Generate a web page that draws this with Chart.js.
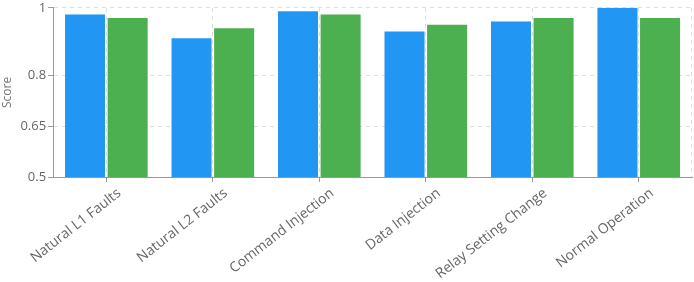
<!DOCTYPE html>
<html>
<head>
<meta charset="utf-8">
<script src="https://cdn.jsdelivr.net/npm/chart.js@4"></script>
<style>
html,body{margin:0;padding:0;background:#fff;}
#wrap{width:694px;height:282px;}
</style>
</head>
<body>
<div id="wrap"><canvas id="c" width="694" height="282"></canvas></div>
<script>
const categories = ["Natural L1 Faults","Natural L2 Faults","Command Injection","Data Injection","Relay Setting Change","Normal Operation"];
const seriesA = [0.98, 0.91, 0.99, 0.93, 0.96, 1.00];
const seriesB = [0.97, 0.94, 0.98, 0.95, 0.97, 0.97];
const yTicks = [0.5, 0.65, 0.8, 1];

const rightEdge = {
  id: 'rightEdge',
  beforeDatasetsDraw(chart) {
    const {ctx, chartArea} = chart;
    ctx.save();
    ctx.strokeStyle = '#dddddd';
    ctx.lineWidth = 1;
    ctx.setLineDash([4,4]);
    ctx.beginPath();
    ctx.moveTo(Math.round(chartArea.right) - 0.5, chartArea.top);
    ctx.lineTo(Math.round(chartArea.right) - 0.5, chartArea.bottom);
    ctx.stroke();
    ctx.restore();
  }
};

new Chart(document.getElementById('c'), {
  type: 'bar',
  data: {
    labels: categories,
    datasets: [
      {label: 'A', data: seriesA, backgroundColor: '#2196F3'},
      {label: 'B', data: seriesB, backgroundColor: '#4CAF50'}
    ]
  },
  options: {
    responsive: false,
    animation: false,
    devicePixelRatio: 1,
    layout: {padding: {left: 0, right: 2, top: 0, bottom: 0}},
    plugins: {legend: {display: false}, tooltip: {enabled: false}},
    datasets: {bar: {categoryPercentage: 0.8, barPercentage: 0.94}},
    scales: {
      x: {
        afterFit(axis) { axis.height = 105; },
        grid: {offset: false, color: '#dddddd', tickColor: '#999999', drawTicks: true, tickLength: 5},
        border: {display: true, color: '#999999', dash: [4,4]},
        ticks: {color: '#666666', font: {family: 'Open Sans', size: 14}, minRotation: 38, maxRotation: 38, autoSkip: false, padding: 3, labelOffset: 13}
      },
      y: {
        min: 0.5, max: 1,
        afterBuildTicks(axis) { axis.ticks = yTicks.map(v => ({value: v})); },
        grid: {color: '#dddddd', tickColor: '#999999', drawTicks: true, tickLength: 5},
        border: {display: true, color: '#999999', dash: [4,4]},
        ticks: {color: '#666666', font: {family: 'Open Sans', size: 13, lineHeight: 0.9}, padding: 2, callback: v => String(v)},
        title: {display: true, text: 'Score', color: '#777777', font: {family: 'Open Sans', size: 12}, padding: {top: 0, bottom: 4}}
      }
    }
  },
  plugins: [rightEdge]
});
</script>
</body>
</html>
